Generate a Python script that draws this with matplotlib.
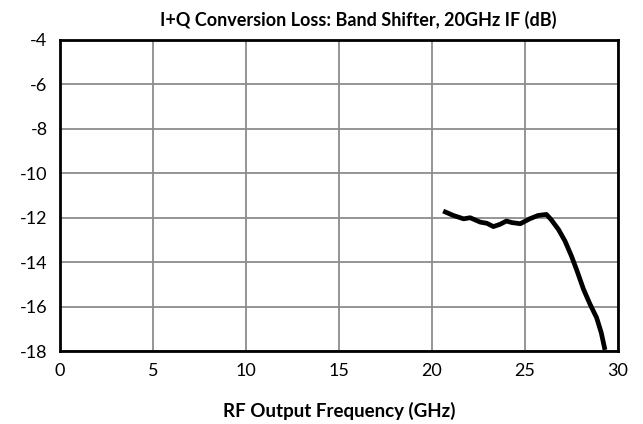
import matplotlib.pyplot as plt

# I+Q conversion loss, band shifter, 20 GHz IF
freq_ghz = [20.6, 21.15, 21.7, 22.05, 22.6, 22.95, 23.3, 23.65, 24.0, 24.3,
            24.75, 25.25, 25.7, 26.15, 26.4, 26.8, 27.15, 27.5, 27.8, 28.15,
            28.5, 28.85, 29.1, 29.3]
loss_db = [-11.7, -11.9, -12.05, -12.0, -12.2, -12.25, -12.4, -12.3, -12.15, -12.22,
           -12.27, -12.05, -11.9, -11.85, -12.08, -12.53, -13.05, -13.73, -14.4, -15.23,
           -15.9, -16.5, -17.18, -17.95]

x_ticks = [0, 5, 10, 15, 20, 25, 30]
y_ticks = [-4, -6, -8, -10, -12, -14, -16, -18]

plt.rcParams['font.family'] = ['Lato', 'DejaVu Sans']
plt.rcParams['axes.unicode_minus'] = False

fig = plt.figure(figsize=(6.43, 4.24), dpi=100)
ax = fig.add_axes([60 / 643, 73 / 424, 558 / 643, 311 / 424])

ax.plot(freq_ghz, loss_db, color='black', linewidth=3.4, solid_capstyle='butt')

ax.set_xlim(0, 30)
ax.set_ylim(-18, -4)
ax.set_xticks(x_ticks)
ax.set_yticks(y_ticks)
ax.grid(True, color='#8c8c8c', linewidth=1.3)
ax.set_axisbelow(True)
ax.tick_params(length=0, labelsize=13, pad=9)
for s in ax.spines.values():
    s.set_linewidth(2)
    s.set_color('black')

# title sits a little right of the plot centre
fig.text(358 / 643, 1 - 20 / 424, 'I+Q Conversion Loss: Band Shifter, 20GHz IF (dB)',
         fontsize=13, fontweight='bold', ha='center', va='center')
ax.set_xlabel('RF Output Frequency (GHz)', fontsize=13.5, fontweight='bold', labelpad=16)

fig.savefig('out.png', dpi=100)
